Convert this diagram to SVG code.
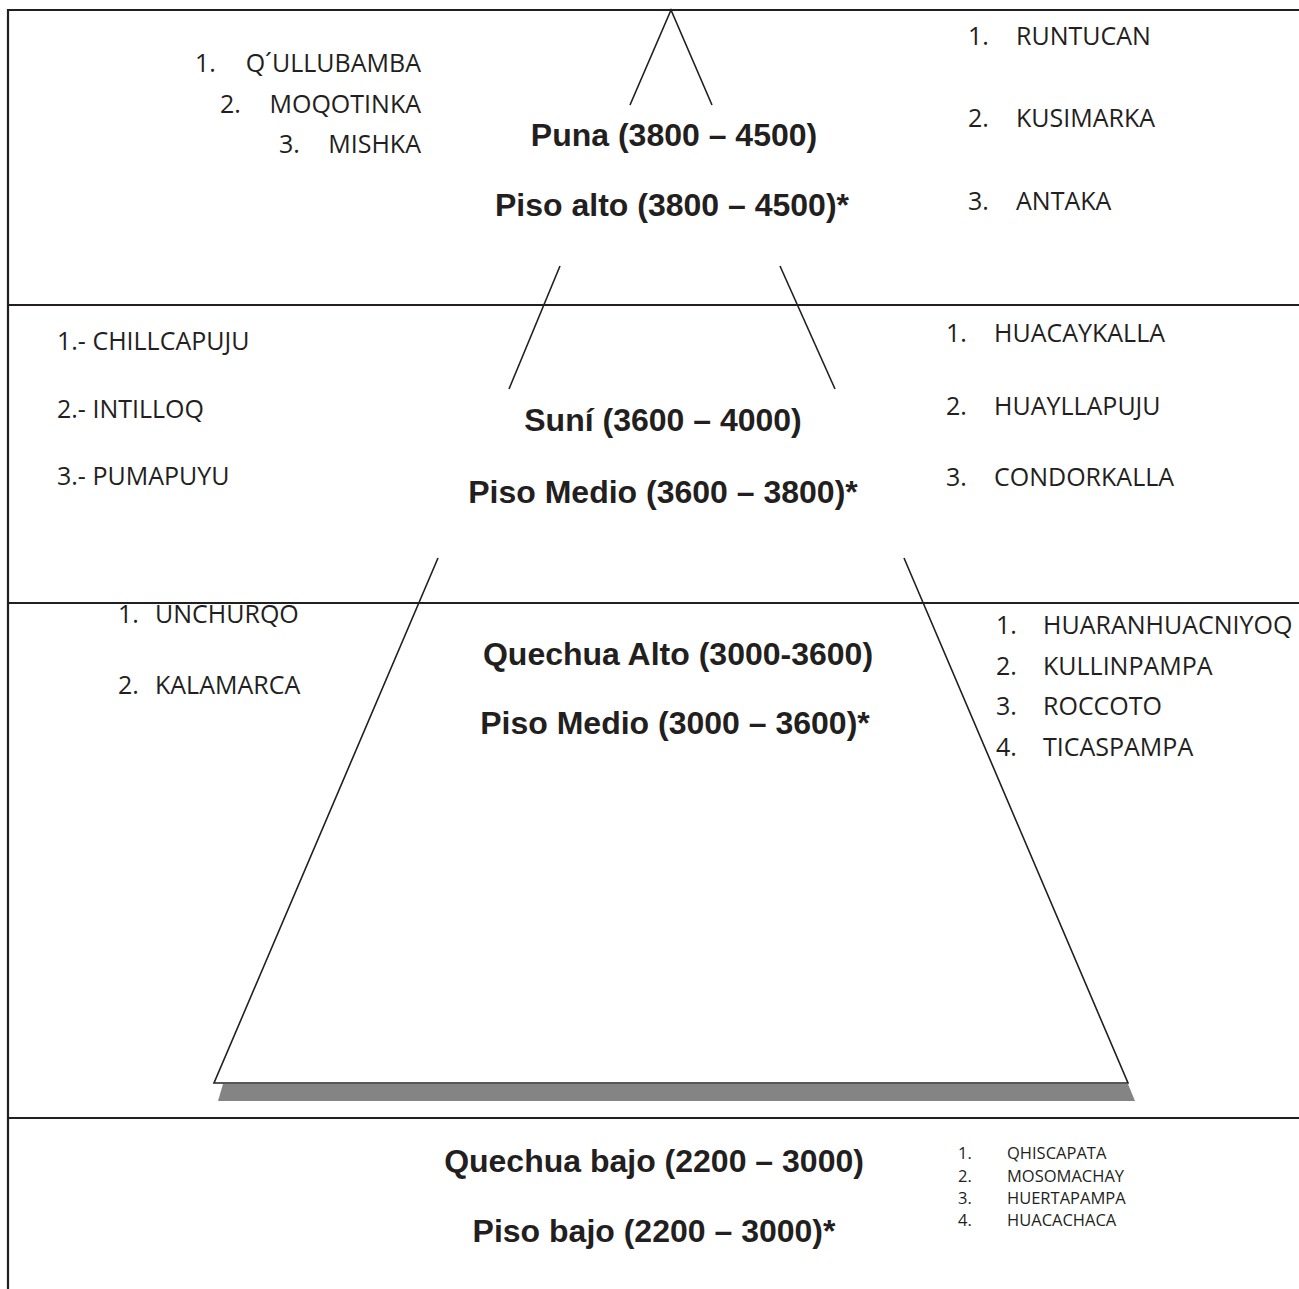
<svg xmlns="http://www.w3.org/2000/svg" width="1299" height="1289" viewBox="0 0 1299 1289">
<style>
.frame{stroke:#231f20;stroke-width:2.2;fill:none}
.pyr{stroke:#231f20;stroke-width:1.6;fill:none}
.h{font-family:"Liberation Sans",Arial,sans-serif;font-weight:bold;font-size:32px;fill:#231f20;text-anchor:middle}
.t{font-family:"Open Sans","Noto Sans",sans-serif;font-size:25px;fill:#231f20}
.s{font-family:"Open Sans","Noto Sans",sans-serif;font-size:16.5px;fill:#231f20}
.e{text-anchor:end}
</style>
<rect width="1299" height="1289" fill="#ffffff"/>
<g id="frame">
<line class="frame" x1="8" y1="10" x2="1299" y2="10"/>
<line class="frame" x1="8" y1="9" x2="8" y2="1289"/>
<line class="frame" x1="8" y1="305" x2="1299" y2="305"/>
<line class="frame" x1="8" y1="603" x2="1299" y2="603"/>
<line class="frame" x1="8" y1="1118" x2="1299" y2="1118"/>
</g>
<g id="connectors">
<polygon points="223,1084 1128,1084 1135,1101 218,1101" fill="#848484"/>
<polyline class="pyr" points="630,105 671,10 712,105"/>
<line class="pyr" x1="560" y1="266" x2="509" y2="389"/>
<line class="pyr" x1="780" y1="266" x2="835" y2="389"/>
<polyline class="pyr" points="438,558 214,1083 1128,1083 904,558"/>
</g>
<g id="zone-puna">
<text class="h" x="674" y="146">Puna (3800 – 4500)</text>
<text class="h" x="672" y="216">Piso alto (3800 – 4500)*</text>
<text class="t" x="195" y="72">1.</text><text class="t e" x="421" y="72">Q´ULLUBAMBA</text>
<text class="t" x="220" y="113">2.</text><text class="t e" x="421" y="113">MOQOTINKA</text>
<text class="t" x="279" y="153">3.</text><text class="t e" x="421" y="153">MISHKA</text>
<text class="t" x="968" y="45">1.</text><text class="t" x="1016" y="45">RUNTUCAN</text>
<text class="t" x="968" y="127">2.</text><text class="t" x="1016" y="127">KUSIMARKA</text>
<text class="t" x="968" y="210">3.</text><text class="t" x="1016" y="210">ANTAKA</text>
</g>
<g id="zone-suni">
<text class="h" x="663" y="431">Suní (3600 – 4000)</text>
<text class="h" x="663" y="503">Piso Medio (3600 – 3800)*</text>
<text class="t" x="57" y="350">1.- CHILLCAPUJU</text>
<text class="t" x="57" y="418">2.- INTILLOQ</text>
<text class="t" x="57" y="485">3.- PUMAPUYU</text>
<text class="t" x="946" y="342">1.</text><text class="t" x="994" y="342">HUACAYKALLA</text>
<text class="t" x="946" y="415">2.</text><text class="t" x="994" y="415">HUAYLLAPUJU</text>
<text class="t" x="946" y="486">3.</text><text class="t" x="994" y="486">CONDORKALLA</text>
</g>
<g id="zone-quechua-alto">
<text class="h" x="678" y="665">Quechua Alto (3000-3600)</text>
<text class="h" x="675" y="734">Piso Medio (3000 – 3600)*</text>
<text class="t" x="118" y="623">1.</text><text class="t" x="155" y="623">UNCHURQO</text>
<text class="t" x="118" y="694">2.</text><text class="t" x="155" y="694">KALAMARCA</text>
<text class="t" x="996" y="634">1.</text><text class="t" x="1043" y="634">HUARANHUACNIYOQ</text>
<text class="t" x="996" y="675">2.</text><text class="t" x="1043" y="675">KULLINPAMPA</text>
<text class="t" x="996" y="715">3.</text><text class="t" x="1043" y="715">ROCCOTO</text>
<text class="t" x="996" y="756">4.</text><text class="t" x="1043" y="756">TICASPAMPA</text>
</g>
<g id="zone-quechua-bajo">
<text class="h" x="654" y="1172">Quechua bajo (2200 – 3000)</text>
<text class="h" x="654" y="1242">Piso bajo (2200 – 3000)*</text>
<text class="s" x="958" y="1159">1.</text><text class="s" x="1007" y="1159">QHISCAPATA</text>
<text class="s" x="958" y="1182">2.</text><text class="s" x="1007" y="1182">MOSOMACHAY</text>
<text class="s" x="958" y="1204">3.</text><text class="s" x="1007" y="1204">HUERTAPAMPA</text>
<text class="s" x="958" y="1226">4.</text><text class="s" x="1007" y="1226">HUACACHACA</text>
</g>
</svg>
